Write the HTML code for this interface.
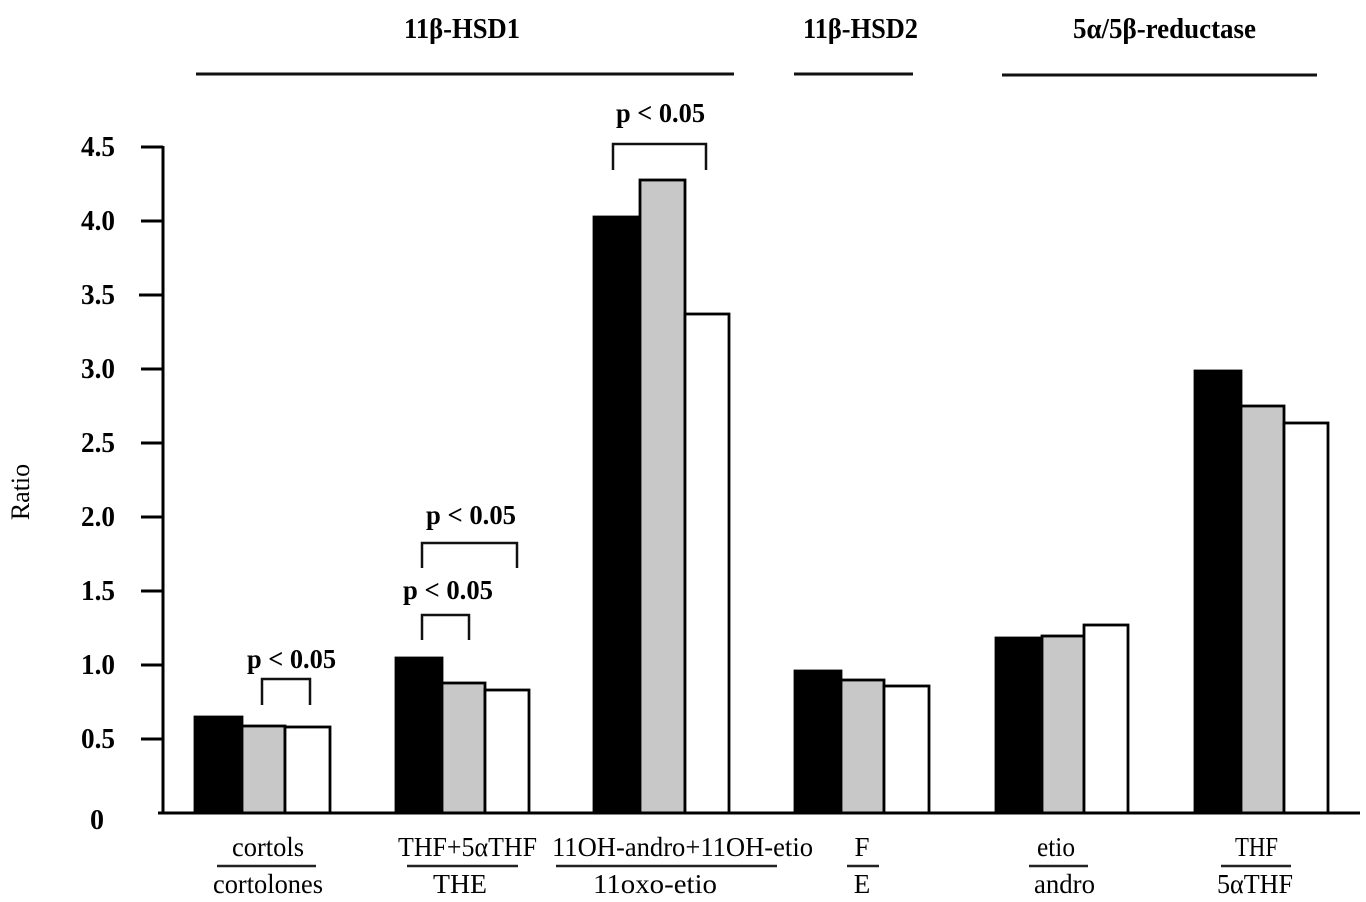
<!DOCTYPE html>
<html>
<head>
<meta charset="utf-8">
<style>
  html, body { margin: 0; padding: 0; background: #fff; }
  svg { display: block; }
  text { font-family: "Liberation Serif", "Times New Roman", serif; fill: #000; }
  .b { font-weight: bold; }
</style>
</head>
<body>
<svg width="1366" height="902" viewBox="0 0 1366 902" xmlns="http://www.w3.org/2000/svg">
  <rect x="0" y="0" width="1366" height="902" fill="#fff"/>

  <!-- Headers -->
  <text class="b" x="404" y="38" font-size="29" textLength="116" lengthAdjust="spacingAndGlyphs">11β-HSD1</text>
  <line x1="196" y1="74" x2="734" y2="74" stroke="#111" stroke-width="3"/>
  <text class="b" x="803" y="38" font-size="29" textLength="115" lengthAdjust="spacingAndGlyphs">11β-HSD2</text>
  <line x1="794" y1="74" x2="913" y2="74" stroke="#111" stroke-width="3"/>
  <text class="b" x="1073" y="38" font-size="29" textLength="183" lengthAdjust="spacingAndGlyphs">5α/5β-reductase</text>
  <line x1="1002" y1="75" x2="1317" y2="75" stroke="#111" stroke-width="3"/>

  <!-- Y axis label -->
  <text x="0" y="0" font-size="26" text-anchor="middle" transform="translate(29,492) rotate(-90)">Ratio</text>

  <!-- Y axis -->
  <line x1="163" y1="146" x2="163" y2="814" stroke="#000" stroke-width="3"/>
  <g stroke="#000" stroke-width="3">
    <line x1="141" y1="147" x2="163" y2="147"/>
    <line x1="141" y1="221" x2="163" y2="221"/>
    <line x1="139" y1="295" x2="163" y2="295"/>
    <line x1="141" y1="369" x2="163" y2="369"/>
    <line x1="141" y1="443" x2="163" y2="443"/>
    <line x1="141" y1="517" x2="163" y2="517"/>
    <line x1="141" y1="591" x2="163" y2="591"/>
    <line x1="141" y1="665" x2="163" y2="665"/>
    <line x1="141" y1="739" x2="163" y2="739"/>
  </g>
  <g font-size="28">
    <text class="b" x="81" y="156" textLength="34" lengthAdjust="spacingAndGlyphs">4.5</text>
    <text class="b" x="81" y="230" textLength="34" lengthAdjust="spacingAndGlyphs">4.0</text>
    <text class="b" x="81" y="304" textLength="34" lengthAdjust="spacingAndGlyphs">3.5</text>
    <text class="b" x="81" y="378" textLength="34" lengthAdjust="spacingAndGlyphs">3.0</text>
    <text class="b" x="81" y="452" textLength="34" lengthAdjust="spacingAndGlyphs">2.5</text>
    <text class="b" x="81" y="526" textLength="34" lengthAdjust="spacingAndGlyphs">2.0</text>
    <text class="b" x="81" y="600" textLength="34" lengthAdjust="spacingAndGlyphs">1.5</text>
    <text class="b" x="81" y="674" textLength="34" lengthAdjust="spacingAndGlyphs">1.0</text>
    <text class="b" x="81" y="748" textLength="34" lengthAdjust="spacingAndGlyphs">0.5</text>
  </g>
  <text class="b" x="97" y="829" font-size="28" text-anchor="middle">0</text>

  <!-- Bars -->
  <g stroke="#000" stroke-width="2.8">
    <!-- G1 -->
    <rect x="195" y="717" width="47" height="96" fill="#000"/>
    <rect x="242" y="726" width="43" height="87" fill="#c8c8c8"/>
    <rect x="285" y="727" width="45" height="86" fill="#fff"/>
    <!-- G2 -->
    <rect x="396" y="658" width="46" height="155" fill="#000"/>
    <rect x="442" y="683" width="43" height="130" fill="#c8c8c8"/>
    <rect x="485" y="690" width="44" height="123" fill="#fff"/>
    <!-- G3 -->
    <rect x="594" y="217" width="46" height="596" fill="#000"/>
    <rect x="640" y="180" width="45" height="633" fill="#c8c8c8"/>
    <rect x="685" y="314" width="44" height="499" fill="#fff"/>
    <!-- G4 -->
    <rect x="795" y="671" width="46" height="142" fill="#000"/>
    <rect x="841" y="680" width="43" height="133" fill="#c8c8c8"/>
    <rect x="884" y="686" width="45" height="127" fill="#fff"/>
    <!-- G5 -->
    <rect x="996" y="638" width="46" height="175" fill="#000"/>
    <rect x="1042" y="636" width="42" height="177" fill="#c8c8c8"/>
    <rect x="1084" y="625" width="44" height="188" fill="#fff"/>
    <!-- G6 -->
    <rect x="1195" y="371" width="46" height="442" fill="#000"/>
    <rect x="1241" y="406" width="43" height="407" fill="#c8c8c8"/>
    <rect x="1284" y="423" width="44" height="390" fill="#fff"/>
  </g>

  <!-- Baseline -->
  <line x1="158" y1="813" x2="1360" y2="813" stroke="#000" stroke-width="3"/>

  <!-- Significance brackets -->
  <g fill="none" stroke="#111" stroke-width="2.5">
    <polyline points="262,705 262,679 310,679 310,705"/>
    <polyline points="422,640 422,615 469,615 469,640"/>
    <polyline points="422,568 422,543 517,543 517,568"/>
    <polyline points="613,170 613,144 706,144 706,170"/>
  </g>
  <g font-size="27">
    <text class="b" x="247" y="668" textLength="89" lengthAdjust="spacingAndGlyphs">p &lt; 0.05</text>
    <text class="b" x="403" y="599" textLength="90" lengthAdjust="spacingAndGlyphs">p &lt; 0.05</text>
    <text class="b" x="426" y="524" textLength="90" lengthAdjust="spacingAndGlyphs">p &lt; 0.05</text>
    <text class="b" x="616" y="122" textLength="89" lengthAdjust="spacingAndGlyphs">p &lt; 0.05</text>
  </g>

  <!-- Category labels -->
  <g font-size="27">
    <text x="232" y="856" textLength="72" lengthAdjust="spacingAndGlyphs">cortols</text>
    <text x="213" y="893" textLength="110" lengthAdjust="spacingAndGlyphs">cortolones</text>

    <text x="398" y="856" textLength="139" lengthAdjust="spacingAndGlyphs">THF+5αTHF</text>
    <text x="433" y="893" textLength="54" lengthAdjust="spacingAndGlyphs">THE</text>

    <text x="552" y="856" textLength="261" lengthAdjust="spacingAndGlyphs">11OH-andro+11OH-etio</text>
    <text x="593" y="893" textLength="124" lengthAdjust="spacingAndGlyphs">11oxo-etio</text>

    <text x="862" y="856" text-anchor="middle">F</text>
    <text x="862" y="893" text-anchor="middle">E</text>

    <text x="1037" y="856" textLength="38" lengthAdjust="spacingAndGlyphs">etio</text>
    <text x="1034" y="893" textLength="61" lengthAdjust="spacingAndGlyphs">andro</text>

    <text x="1235" y="856" textLength="43" lengthAdjust="spacingAndGlyphs">THF</text>
    <text x="1217" y="893" textLength="76" lengthAdjust="spacingAndGlyphs">5αTHF</text>
  </g>
  <g stroke="#222" stroke-width="2.5">
    <line x1="217" y1="866" x2="316" y2="866"/>
    <line x1="407" y1="866" x2="518" y2="866"/>
    <line x1="556" y1="866" x2="777" y2="866"/>
    <line x1="847" y1="866" x2="879" y2="866"/>
    <line x1="1029" y1="866" x2="1088" y2="866"/>
    <line x1="1221" y1="866" x2="1291" y2="866"/>
  </g>
</svg>
</body>
</html>
